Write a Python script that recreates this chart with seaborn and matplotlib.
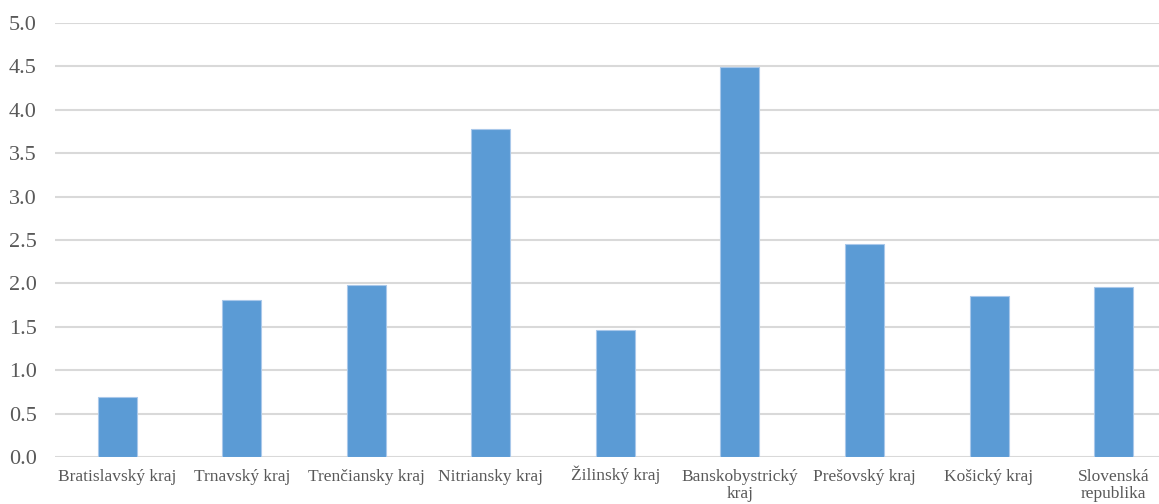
import numpy as np
import pandas as pd
import seaborn as sns
import matplotlib
matplotlib.use("Agg")
import matplotlib.pyplot as plt
from matplotlib.transforms import ScaledTranslation

regions = ["Bratislavský kraj", "Trnavský kraj", "Trenčiansky kraj", "Nitriansky kraj",
           "Žilinský kraj", "Banskobystrický\nkraj", "Prešovský kraj", "Košický kraj",
           "Slovenská\nrepublika"]
values = [0.69, 1.81, 1.98, 3.78, 1.46, 4.49, 2.45, 1.86, 1.96]
yticks = [0.0, 0.5, 1.0, 1.5, 2.0, 2.5, 3.0, 3.5, 4.0, 4.5, 5.0]

df = pd.DataFrame({"region": regions, "value": values})

sns.set_theme(style="white")
plt.rcParams["font.family"] = ["Liberation Serif", "DejaVu Serif"]

fig = plt.figure(figsize=(11.59, 5.04), dpi=100)
# right edge of the plot area runs past the picture, as in the reference crop
ax = fig.add_axes([0.0475, 0.0933, 0.967, 0.861])

sns.barplot(data=df, x="region", y="value", color="#5B9BD5", width=0.313,
            saturation=1, ax=ax, zorder=3, edgecolor="#A9C8EA", linewidth=0.8)

ax.set_ylim(0, 5.0)
ax.set_yticks(yticks)
ax.set_yticklabels([f"{t:.1f}" for t in yticks])
ax.set_xlim(-0.5, len(regions) - 0.5)
ax.yaxis.grid(True, color="#D9D9D9", linewidth=1.5, zorder=0)
ax.set_axisbelow(True)
for s in ax.spines.values():
    s.set_visible(False)
ax.axhline(0, color="#D9D9D9", linewidth=1.8, zorder=1)

ax.set_xlabel("")
ax.set_ylabel("")
ax.tick_params(axis="y", labelsize=16, colors="#595959", length=0, pad=13)
ax.tick_params(axis="x", labelsize=12.5, colors="#595959", length=0, pad=9)
for lbl in ax.get_xticklabels():
    lbl.set_linespacing(1.05)
    # the caron on Ž pushes the top-aligned label down; lift it back to the common baseline
    if lbl.get_text().startswith("Ž"):
        lbl.set_transform(lbl.get_transform() + ScaledTranslation(0, 3 / 72, fig.dpi_scale_trans))

fig.savefig("out.png", dpi=100)
